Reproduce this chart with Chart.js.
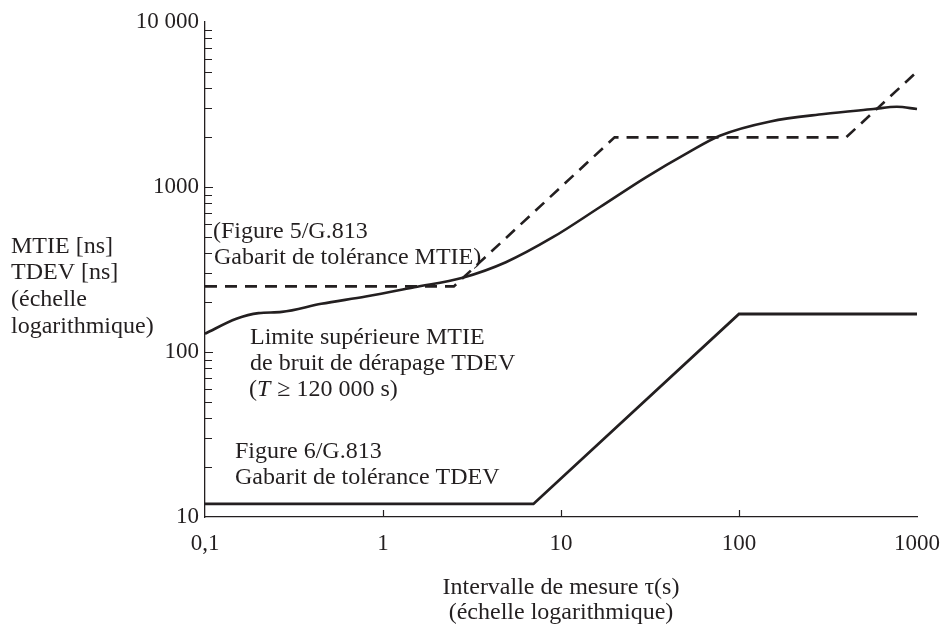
<!DOCTYPE html>
<html>
<head>
<meta charset="utf-8">
<script src="https://cdn.jsdelivr.net/npm/chart.js@4"></script>
<style>
	html, body { margin: 0; padding: 0; background: #fff; }
	#wrap { width: 945px; height: 635px; position: relative; }
</style>
</head>
<body>
<div id="wrap"><canvas id="main-chart"></canvas></div>
<script>
// axis ticks
const xTicks = [0.1, 1, 10, 100, 1000];
const xTickLabels = ['0,1', '1', '10', '100', '1000'];
const yTicks = [10, 100, 1000, 10000];
const yTickLabels = ['10', '100', '1000', '10 000'];

// Figure 5/G.813 - MTIE tolerance mask (dashed)
const mtieMaskX = [0.1, 2.5, 20, 400, 1000];
const mtieMaskY = [250, 250, 2000, 2000, 5000];

// Figure 6/G.813 - TDEV tolerance mask
const tdevMaskX = [0.1, 7, 100, 1000];
const tdevMaskY = [12, 12, 170, 170];

// upper MTIE limit of wander noise
const noiseX = [0.1, 0.15, 0.2, 0.27, 0.45, 0.8, 1.5, 2.8, 4.9, 9, 16.5, 30, 52, 78, 150, 300, 570, 770, 1000];
const noiseY = [129, 159, 172, 175, 196, 217, 247, 282, 350, 496, 754, 1145, 1622, 2046, 2498, 2768, 2969, 3065, 2969];

const ink = '#231f20';
const serif = '"Liberation Serif", "DejaVu Serif", serif';

function pts(xs, ys) {
	return xs.map((x, i) => ({x: x, y: ys[i]}));
}

// ticks drawn inside the plot, plus the free text of the figure
const extras = {
	id: 'extras',
	afterDraw(chart) {
		const ctx = chart.ctx;
		const xs = chart.scales.x;
		const ys = chart.scales.y;
		const a = chart.chartArea;
		ctx.save();
		ctx.strokeStyle = ink;
		ctx.lineWidth = 1.2;
		ctx.beginPath();
		// y minor + major ticks, pointing right
		[10, 100, 1000].forEach(d => {
			for (let k = 1; k <= 9; k++) {
				if (k === 1 && d === 10) continue;
				const py = Math.round(ys.getPixelForValue(k * d)) + 0.5;
				ctx.moveTo(a.left, py);
				ctx.lineTo(a.left + (k === 1 ? 8 : 7), py);
			}
		});
		// x major ticks, pointing up
		[1, 10, 100].forEach(v => {
			const px = Math.round(xs.getPixelForValue(v)) + 0.5;
			ctx.moveTo(px, a.bottom);
			ctx.lineTo(px, a.bottom - 7);
		});
		ctx.stroke();

		ctx.fillStyle = ink;
		ctx.textBaseline = 'middle';
		ctx.textAlign = 'left';
		ctx.font = '24px ' + serif;
		const lines = [
			['MTIE [ns]', 11, 247],
			['TDEV [ns]', 11, 273],
			['(échelle', 11, 300],
			['logarithmique)', 11, 327],
			['(Figure 5/G.813', 213, 232],
			['Gabarit de tolérance MTIE)', 214, 258],
			['Limite supérieure MTIE', 250, 338],
			['de bruit de dérapage TDEV', 250, 364],
			['Figure 6/G.813', 235, 452],
			['Gabarit de tolérance TDEV', 235, 478]
		];
		lines.forEach(l => ctx.fillText(l[0], l[1], l[2]));

		// (T >= 120 000 s) with italic T
		let x = 249;
		const y = 390;
		ctx.fillText('(', x, y);
		x += ctx.measureText('(').width;
		ctx.font = 'italic 24px ' + serif;
		ctx.fillText('T', x, y);
		x += ctx.measureText('T').width + 1;
		ctx.font = '24px ' + serif;
		ctx.fillText(' ≥ 120 000 s)', x, y);
		ctx.restore();
	}
};

function make() {
	const ctx = document.getElementById('main-chart');
	return new Chart(ctx, {
		type: 'line',
		data: {
			datasets: [
				{
					label: 'Gabarit de tolérance MTIE',
					data: pts(mtieMaskX, mtieMaskY),
					borderColor: ink,
					borderWidth: 2.6,
					borderDash: [12, 8],
					pointRadius: 0,
					tension: 0
				},
				{
					label: 'Limite supérieure MTIE de bruit de dérapage TDEV',
					data: pts(noiseX, noiseY),
					borderColor: ink,
					borderWidth: 2.6,
					pointRadius: 0,
					cubicInterpolationMode: 'monotone'
				},
				{
					label: 'Gabarit de tolérance TDEV',
					data: pts(tdevMaskX, tdevMaskY),
					borderColor: ink,
					borderWidth: 2.8,
					pointRadius: 0,
					tension: 0
				}
			]
		},
		options: {
			responsive: true,
			maintainAspectRatio: false,
			animation: false,
			clip: false,
			layout: {padding: {top: 22, right: 28, left: 0, bottom: 0}},
			plugins: {
				legend: {display: false},
				tooltip: {enabled: false}
			},
			scales: {
				x: {
					type: 'logarithmic',
					min: 0.1,
					max: 1000,
					afterBuildTicks: s => { s.ticks = xTicks.map(v => ({value: v})); },
					afterFit: s => {
						s.height = 118;
						// labels may hang over the ends, the layout padding takes care of it
						s.paddingLeft = 0;
						s.paddingRight = 0;
					},
					grid: {display: false, drawTicks: false},
					border: {display: true, color: ink, width: 1.3},
					ticks: {
						autoSkip: false,
						maxRotation: 0,
						padding: 13,
						color: ink,
						font: {family: serif, size: 23},
						callback: v => xTickLabels[xTicks.indexOf(v)]
					},
					title: {
						display: true,
						text: ['Intervalle de mesure τ(s)', '(échelle logarithmique)'],
						color: ink,
						font: {family: serif, size: 24, lineHeight: '25px'},
						padding: {top: 0, bottom: 10}
					}
				},
				y: {
					type: 'logarithmic',
					min: 10,
					max: 10000,
					afterBuildTicks: s => { s.ticks = yTicks.map(v => ({value: v})); },
					afterFit: s => { s.width = 205; },
					grid: {display: false, drawTicks: false},
					border: {display: true, color: ink, width: 1.3},
					ticks: {
						padding: 6,
						color: ink,
						font: {family: serif, size: 23},
						callback: v => yTickLabels[yTicks.indexOf(v)]
					}
				}
			}
		},
		plugins: [extras]
	});
}

make();
</script>
</body>
</html>
